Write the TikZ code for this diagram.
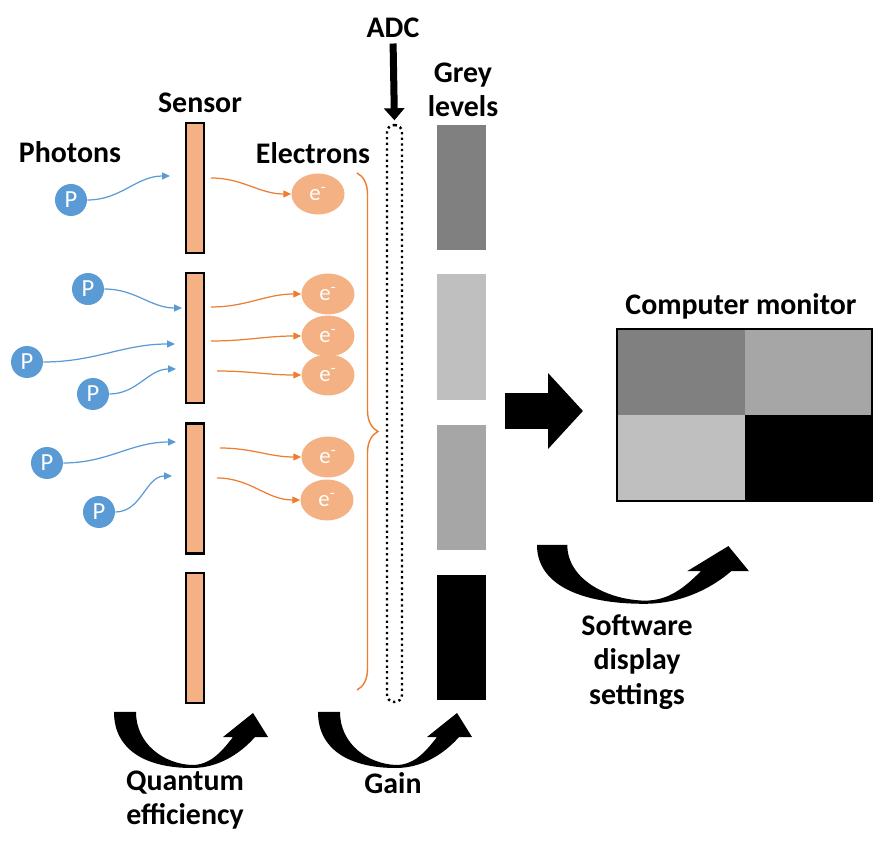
\documentclass[tikz,border=0pt]{standalone}
\usepackage{fontspec}
\setmainfont{Carlito}
\usetikzlibrary{arrows.meta,positioning,calc,shapes.geometric,decorations.pathreplacing}
\definecolor{camblue}{RGB}{91,155,213}
\definecolor{camorange}{RGB}{237,125,49}
\definecolor{campeach}{RGB}{244,177,131}
\definecolor{greydark}{RGB}{128,128,128}
\definecolor{greymid}{RGB}{166,166,166}
\definecolor{greylight}{RGB}{191,191,191}
\tikzset{
  heading/.style={
    font=\fontsize{17}{19.5}\selectfont\bfseries,
    align=center,
    inner sep=0pt
  },
  sensorbar/.style={
    draw=black,
    line width=1.4pt,
    fill=campeach,
    minimum width=0.36cm,
    minimum height=2.6cm,
    inner sep=0pt
  },
  photon/.style={
    circle,
    fill=camblue,
    text=white,
    minimum size=0.64cm,
    inner sep=0pt,
    font=\fontsize{14}{14}\selectfont
  },
  electron/.style={
    ellipse,
    fill=campeach,
    text=white,
    minimum width=1.06cm,
    minimum height=0.82cm,
    inner sep=0pt,
    font=\fontsize{13}{13}\selectfont
  },
  greylevel/.style={
    minimum width=1cm,
    minimum height=2.52cm,
    inner sep=0pt
  },
  photarr/.style={-{Triangle[length=4.5pt,width=4pt]},line width=0.7pt,camblue},
  elecarr/.style={-{Triangle[length=4.5pt,width=4pt]},line width=0.7pt,camorange},
  adcarr/.style={-{Triangle[length=0.24cm,width=0.4cm]},line width=0.14cm},
  bigarr/.style={-{Triangle[length=0.7cm,width=1.48cm]},line width=0.72cm},
  bentarrow/.pic={
    \fill (0,0) .. controls (0,38) and (32,56) .. (78,56)
      .. controls (104,56) and (126,42) .. (141,25)
      -- (154,25) -- (139,1) -- (109,25) -- (119,25)
      .. controls (106,42) and (95,53) .. (78,53)
      .. controls (50,52) and (22,32) .. (22,0) -- cycle;
  }
}

\begin{document}
\begin{tikzpicture}[x=0.02cm,y=-0.02cm]
  \useasboundingbox (0,0) rectangle (876,854);

  % labels
  \node[heading] (photlbl) at (70,152) {Photons};
  \node[heading] (senslbl) at (200,103) {Sensor};
  \node[heading] (eleclbl) at (313,153) {Electrons};
  \node[heading] (adc) at (393,28) {ADC};
  \node[heading] (greylbl) at (463,90) {Grey\\levels};
  \node[heading] (monlbl) at (741,306) {Computer monitor};
  \node[heading] (qelbl) at (185,800) {Quantum\\efficiency};
  \node[heading] (gainlbl) at (393,783) {Gain};
  \node[heading] (softlbl) at (637,662) {Software\\display\\settings};

  % sensor
  \node[sensorbar] (s1) at (195,188) {};
  \node[sensorbar] (s2) at (195,338) {};
  \node[sensorbar] (s3) at (195,488.5) {};
  \node[sensorbar] (s4) at (195,638) {};

  % photons
  \node[photon] (p1) at (71,200) {P};
  \node[photon] (p2) at (88,289) {P};
  \node[photon] (p3) at (27,362) {P};
  \node[photon] (p4) at (93,394) {P};
  \node[photon] (p5) at (47,463) {P};
  \node[photon] (p6) at (99,512) {P};
  \coordinate (hit1) at (170,176);
  \coordinate (hit2) at (182,308);
  \coordinate (hit3) at (175,344);
  \coordinate (hit4) at (176,369);
  \coordinate (hit5) at (176,442);
  \coordinate (hit6) at (172,476);
  \draw[photarr] (p1) to[out=0,in=180] (hit1);
  \draw[photarr] (p2) to[out=0,in=180] (hit2);
  \draw[photarr] (p3) to[out=0,in=180] (hit3);
  \draw[photarr] (p4) to[out=0,in=180] (hit4);
  \draw[photarr] (p5) to[out=0,in=180] (hit5);
  \draw[photarr] (p6) to[out=0,in=180] (hit6);

  % electrons
  \node[electron] (e1) at (318,194) {e\textsuperscript{-}};
  \node[electron] (e2) at (328,294) {e\textsuperscript{-}};
  \node[electron] (e3) at (328,336) {e\textsuperscript{-}};
  \node[electron] (e4) at (328,375) {e\textsuperscript{-}};
  \node[electron] (e5) at (328,457) {e\textsuperscript{-}};
  \node[electron] (e6) at (327,500) {e\textsuperscript{-}};
  \coordinate (em1) at (211,178);
  \coordinate (em2) at (211,307);
  \coordinate (em3) at (211,341);
  \coordinate (em4) at (217,371);
  \coordinate (em5) at (220,448);
  \coordinate (em6) at (217,478);
  \draw[elecarr] (em1) to[out=0,in=180] (e1);
  \draw[elecarr] (em2) to[out=0,in=180] (e2);
  \draw[elecarr] (em3) to[out=0,in=180] (e3);
  \draw[elecarr] (em4) to[out=0,in=180] (e4);
  \draw[elecarr] (em5) to[out=0,in=180] (e5);
  \draw[elecarr] (em6) to[out=0,in=180] (e6);

  \draw[camorange,line width=0.8pt,decorate,decoration={brace,amplitude=0.42cm}]
    (357,173) -- (357,690);

  % ADC
  \node[draw,line width=1.4pt,dash pattern=on 1.3pt off 1.9pt,rounded corners=4pt,
    minimum width=0.3cm,minimum height=11.54cm,inner sep=0pt] (adcbox) at (394.5,413.5) {};
  \draw[adcarr,shorten <=3pt,shorten >=2pt] (adc.south) -- (adcbox.north);

  % grey levels
  \node[greylevel,fill=greydark] (g1) at (461.5,187.5) {};
  \node[greylevel,fill=greylight] (g2) at (461.5,337) {};
  \node[greylevel,fill=greymid] (g3) at (461.5,487.5) {};
  \node[greylevel,fill=black] (g4) at (461.5,637.5) {};

  \coordinate (fromgrey) at (505,411);
  \coordinate (tomon) at (583,411);
  \draw[bigarr] (fromgrey) -- (tomon);

  % monitor
  \node[draw,line width=1.5pt,minimum width=5.1cm,minimum height=3.44cm,inner sep=0pt,
    path picture={
      \fill[greydark] (path picture bounding box.north west) rectangle (path picture bounding box.center);
      \fill[greymid] (path picture bounding box.north east) rectangle (path picture bounding box.center);
      \fill[greylight] (path picture bounding box.south west) rectangle (path picture bounding box.center);
      \fill[black] (path picture bounding box.south east) rectangle (path picture bounding box.center);
    }] (mon) at (744.5,415) {};

  % curved arrows
  \pic at (114,712) {bentarrow};
  \pic at (318,712) {bentarrow};
  \pic[xscale=1.377,yscale=1.05] at (537,545) {bentarrow};
\end{tikzpicture}
\end{document}
